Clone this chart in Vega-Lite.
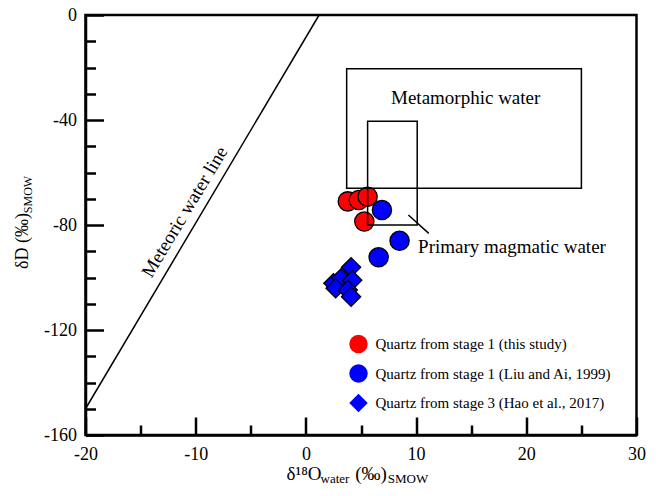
{
  "$schema": "https://vega.github.io/schema/vega-lite/v6.json",
  "width": 551,
  "height": 420,
  "autosize": {"type": "none"},
  "padding": {"left": 85.5, "top": 15, "right": 23.5, "bottom": 61},
  "background": "white",
  "config": {
    "view": {"stroke": "black", "strokeWidth": 2.5},
    "axis": {
      "grid": false,
      "labelFont": "Liberation Serif",
      "labelFontSize": 18,
      "labelColor": "black",
      "titleFont": "Liberation Serif",
      "titleFontWeight": "normal",
      "titleColor": "black",
      "domainColor": "black",
      "domainWidth": 2.5,
      "tickColor": "black",
      "tickWidth": 2.5
    },
    "legend": {
      "labelFont": "Liberation Serif",
      "labelFontSize": 15,
      "labelColor": "black",
      "symbolStrokeColor": "black",
      "symbolStrokeWidth": 1.3,
      "symbolSize": 340,
      "padding": 0,
      "rowPadding": 5.5,
      "labelOffset": 7,
      "labelLimit": 400
    }
  },
  "datasets": {
    "points": [
      {"series": "Quartz from stage 1 (this study)", "d18O": 3.8, "dD": -71},
      {"series": "Quartz from stage 1 (this study)", "d18O": 4.8, "dD": -70.5},
      {"series": "Quartz from stage 1 (this study)", "d18O": 5.6, "dD": -69.2},
      {"series": "Quartz from stage 1 (this study)", "d18O": 5.3, "dD": -78.7},
      {"series": "Quartz from stage 1 (Liu and Ai, 1999)", "d18O": 6.9, "dD": -74.3},
      {"series": "Quartz from stage 1 (Liu and Ai, 1999)", "d18O": 8.5, "dD": -86},
      {"series": "Quartz from stage 1 (Liu and Ai, 1999)", "d18O": 6.6, "dD": -92.3},
      {"series": "Quartz from stage 3 (Hao et al., 2017)", "d18O": 4.1, "dD": -96.1},
      {"series": "Quartz from stage 3 (Hao et al., 2017)", "d18O": 2.5, "dD": -102.2},
      {"series": "Quartz from stage 3 (Hao et al., 2017)", "d18O": 3.2, "dD": -100.3},
      {"series": "Quartz from stage 3 (Hao et al., 2017)", "d18O": 4.2, "dD": -101},
      {"series": "Quartz from stage 3 (Hao et al., 2017)", "d18O": 2.7, "dD": -104.1},
      {"series": "Quartz from stage 3 (Hao et al., 2017)", "d18O": 3.8, "dD": -104.8},
      {"series": "Quartz from stage 3 (Hao et al., 2017)", "d18O": 4.1, "dD": -107.3}
    ],
    "boxes": [
      {"name": "Metamorphic water", "x1": 3.7, "x2": 25, "y1": -20.5, "y2": -66},
      {"name": "Primary magmatic water", "x1": 5.6, "x2": 10.1, "y1": -40.5, "y2": -80}
    ],
    "segments": [
      {"name": "Meteoric water line", "x1": -20, "y1": -150, "x2": 1.2, "y2": 0},
      {"name": "Leader", "x1": 9.3, "y1": -76.2, "x2": 11.15, "y2": -83.2}
    ],
    "labels": [
      {"text": "Metamorphic water", "x": 14.5, "y": -31.7},
      {"text": "Primary magmatic water", "x": 18.7, "y": -88.3}
    ],
    "rotated": [
      {"text": "Meteoric water line", "x": -11.0, "y": -75.0}
    ]
  },
  "resolve": {"axis": {"x": "independent", "y": "independent"}},
  "layer": [
    {
      "data": {"name": "points"},
      "mark": {"type": "point", "filled": true, "stroke": "black", "strokeWidth": 1.3, "opacity": 1, "size": 370},
      "encoding": {
        "x": {
          "field": "d18O", "type": "quantitative",
          "scale": {"domain": [-20, 30], "nice": false, "zero": false},
          "axis": {
            "orient": "bottom", "values": [-20, -10, 0, 10, 20, 30],
            "tickSize": -18, "labelPadding": 28, "labelFlush": false,
            "labelExpr": "'' + datum.value",
            "title": "δ¹⁸O", "titleFontSize": 19, "titleX": 218, "titleY": 38,
            "titleAlign": "center", "titleBaseline": "middle"
          }
        },
        "y": {
          "field": "dD", "type": "quantitative",
          "scale": {"domain": [-160, 0], "nice": false, "zero": false},
          "axis": {
            "orient": "left", "values": [-160, -120, -80, -40, 0],
            "tickSize": -18, "labelPadding": 27,
            "labelExpr": "'' + datum.value",
            "title": "δD (‰)", "titleFontSize": 18, "titleX": -63.5, "titleY": 225.5,
            "titleAngle": -90, "titleAlign": "center", "titleBaseline": "middle"
          }
        },
        "fill": {
          "field": "series", "type": "nominal",
          "scale": {
            "domain": ["Quartz from stage 1 (this study)", "Quartz from stage 1 (Liu and Ai, 1999)", "Quartz from stage 3 (Hao et al., 2017)"],
            "range": ["#ff0000", "#0000ff", "#0000ff"]
          },
          "legend": {"title": null, "orient": "none", "legendX": 263, "legendY": 319}
        },
        "shape": {
          "field": "series", "type": "nominal",
          "scale": {
            "domain": ["Quartz from stage 1 (this study)", "Quartz from stage 1 (Liu and Ai, 1999)", "Quartz from stage 3 (Hao et al., 2017)"],
            "range": ["circle", "circle", "diamond"]
          },
          "legend": {"title": null, "orient": "none", "legendX": 263, "legendY": 319}
        }
      }
    },
    {
      "data": {"name": "boxes"},
      "mark": {"type": "rect", "filled": false, "stroke": "black", "strokeWidth": 1.5},
      "encoding": {
        "x": {
          "field": "x1", "type": "quantitative",
          "scale": {"domain": [-20, 30], "nice": false, "zero": false},
          "axis": {
            "orient": "bottom", "values": [-15, -5, 5, 15, 25],
            "tickSize": -10, "labels": false, "domain": false,
            "title": "water", "titleFontSize": 13, "titleX": 249, "titleY": 43,
            "titleAlign": "center", "titleBaseline": "middle"
          }
        },
        "x2": {"field": "x2"},
        "y": {
          "field": "y1", "type": "quantitative",
          "scale": {"domain": [-160, 0], "nice": false, "zero": false},
          "axis": {
            "orient": "left", "values": [-150, -140, -130, -110, -100, -90, -70, -60, -50, -30, -20, -10],
            "tickSize": -10, "labels": false, "domain": false,
            "title": "SMOW", "titleFontSize": 12, "titleX": -58.5, "titleY": 179,
            "titleAngle": -90, "titleAlign": "center", "titleBaseline": "middle"
          }
        },
        "y2": {"field": "y2"}
      }
    },
    {
      "data": {"name": "segments"},
      "mark": {"type": "rule", "stroke": "black", "strokeWidth": 1.5},
      "encoding": {
        "x": {
          "field": "x1", "type": "quantitative",
          "scale": {"domain": [-20, 30], "nice": false, "zero": false},
          "axis": {
            "orient": "bottom", "ticks": false, "labels": false, "domain": false,
            "title": "(‰)", "titleFontSize": 19, "titleX": 285, "titleY": 38,
            "titleAlign": "center", "titleBaseline": "middle"
          }
        },
        "x2": {"field": "x2"},
        "y": {
          "field": "y1", "type": "quantitative",
          "scale": {"domain": [-160, 0], "nice": false, "zero": false},
          "axis": null
        },
        "y2": {"field": "y2"}
      }
    },
    {
      "data": {"name": "labels"},
      "mark": {"type": "text", "font": "Liberation Serif", "fontSize": 19, "color": "black", "align": "center", "baseline": "middle"},
      "encoding": {
        "x": {
          "field": "x", "type": "quantitative",
          "scale": {"domain": [-20, 30], "nice": false, "zero": false},
          "axis": {
            "orient": "bottom", "ticks": false, "labels": false, "domain": false,
            "title": "SMOW", "titleFontSize": 13, "titleX": 322, "titleY": 43,
            "titleAlign": "center", "titleBaseline": "middle"
          }
        },
        "y": {
          "field": "y", "type": "quantitative",
          "scale": {"domain": [-160, 0], "nice": false, "zero": false},
          "axis": null
        },
        "text": {"field": "text"}
      }
    },
    {
      "data": {"name": "rotated"},
      "mark": {"type": "text", "font": "Liberation Serif", "fontSize": 19, "color": "black", "align": "center", "baseline": "middle", "angle": -59},
      "encoding": {
        "x": {
          "field": "x", "type": "quantitative",
          "scale": {"domain": [-20, 30], "nice": false, "zero": false},
          "axis": null
        },
        "y": {
          "field": "y", "type": "quantitative",
          "scale": {"domain": [-160, 0], "nice": false, "zero": false},
          "axis": null
        },
        "text": {"field": "text"}
      }
    }
  ]
}
